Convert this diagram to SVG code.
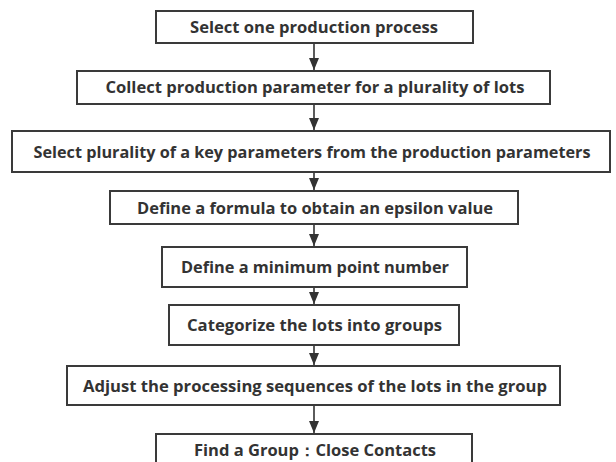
<svg xmlns="http://www.w3.org/2000/svg" width="616" height="462" viewBox="0 0 616 462">
  <style>
    .box { fill: #ffffff; stroke: #3a3a3a; stroke-width: 2; }
    .lbl { font-family: "Open Sans", "Noto Sans", "Liberation Sans", sans-serif; font-weight: bold; font-size: 16px; fill: #333333; text-anchor: middle; }
    .edge { stroke: #333333; stroke-width: 1.6; fill: none; marker-end: url(#arrow); }
  </style>
  <defs>
    <marker id="arrow" viewBox="0 0 12 10" refX="12" refY="5" markerWidth="12" markerHeight="10" markerUnits="userSpaceOnUse" orient="auto">
      <path d="M0,0 L12,5 L0,10 Z" fill="#333333"/>
    </marker>
  </defs>
  <rect width="616" height="462" fill="#ffffff"/>

  <!-- vertical flow arrows between consecutive steps -->
  <g id="connectors">
    <line class="edge" x1="314" y1="43" x2="314" y2="70"/>
    <line class="edge" x1="314" y1="104" x2="314" y2="130"/>
    <line class="edge" x1="314" y1="172" x2="314" y2="190"/>
    <line class="edge" x1="314" y1="224" x2="314" y2="246"/>
    <line class="edge" x1="314" y1="287" x2="314" y2="304"/>
    <line class="edge" x1="314" y1="345" x2="314" y2="365"/>
    <line class="edge" x1="314" y1="405" x2="314" y2="433"/>
  </g>

  <g id="step1">
    <rect class="box" x="156" y="11" width="317" height="32"/>
    <text class="lbl" x="314" y="33" textLength="248" lengthAdjust="spacingAndGlyphs">Select one production process</text>
  </g>
  <g id="step2">
    <rect class="box" x="77" y="71" width="473" height="33"/>
    <text class="lbl" x="315" y="93" textLength="419" lengthAdjust="spacingAndGlyphs">Collect production parameter for a plurality of lots</text>
  </g>
  <g id="step3">
    <rect class="box" x="12" y="131" width="598" height="41"/>
    <text class="lbl" x="312" y="158" textLength="557" lengthAdjust="spacingAndGlyphs">Select plurality of a key parameters from the production parameters</text>
  </g>
  <g id="step4">
    <rect class="box" x="110" y="191" width="408" height="33"/>
    <text class="lbl" x="315" y="213.5" textLength="356" lengthAdjust="spacingAndGlyphs">Define a formula to obtain an epsilon value</text>
  </g>
  <g id="step5">
    <rect class="box" x="162" y="247" width="305" height="40"/>
    <text class="lbl" x="315" y="273" textLength="268" lengthAdjust="spacingAndGlyphs">Define a minimum point number</text>
  </g>
  <g id="step6">
    <rect class="box" x="169" y="305" width="290" height="40"/>
    <text class="lbl" x="314.5" y="331" textLength="255" lengthAdjust="spacingAndGlyphs">Categorize the lots into groups</text>
  </g>
  <g id="step7">
    <rect class="box" x="67" y="366" width="493" height="39"/>
    <text class="lbl" x="315" y="391.5" textLength="464" lengthAdjust="spacingAndGlyphs">Adjust the processing sequences of the lots in the group</text>
  </g>
  <g id="step8">
    <rect class="box" x="156" y="434" width="316" height="40"/>
    <text class="lbl" x="315" y="456" textLength="242" lengthAdjust="spacingAndGlyphs">Find a Group：Close Contacts</text>
  </g>
</svg>
